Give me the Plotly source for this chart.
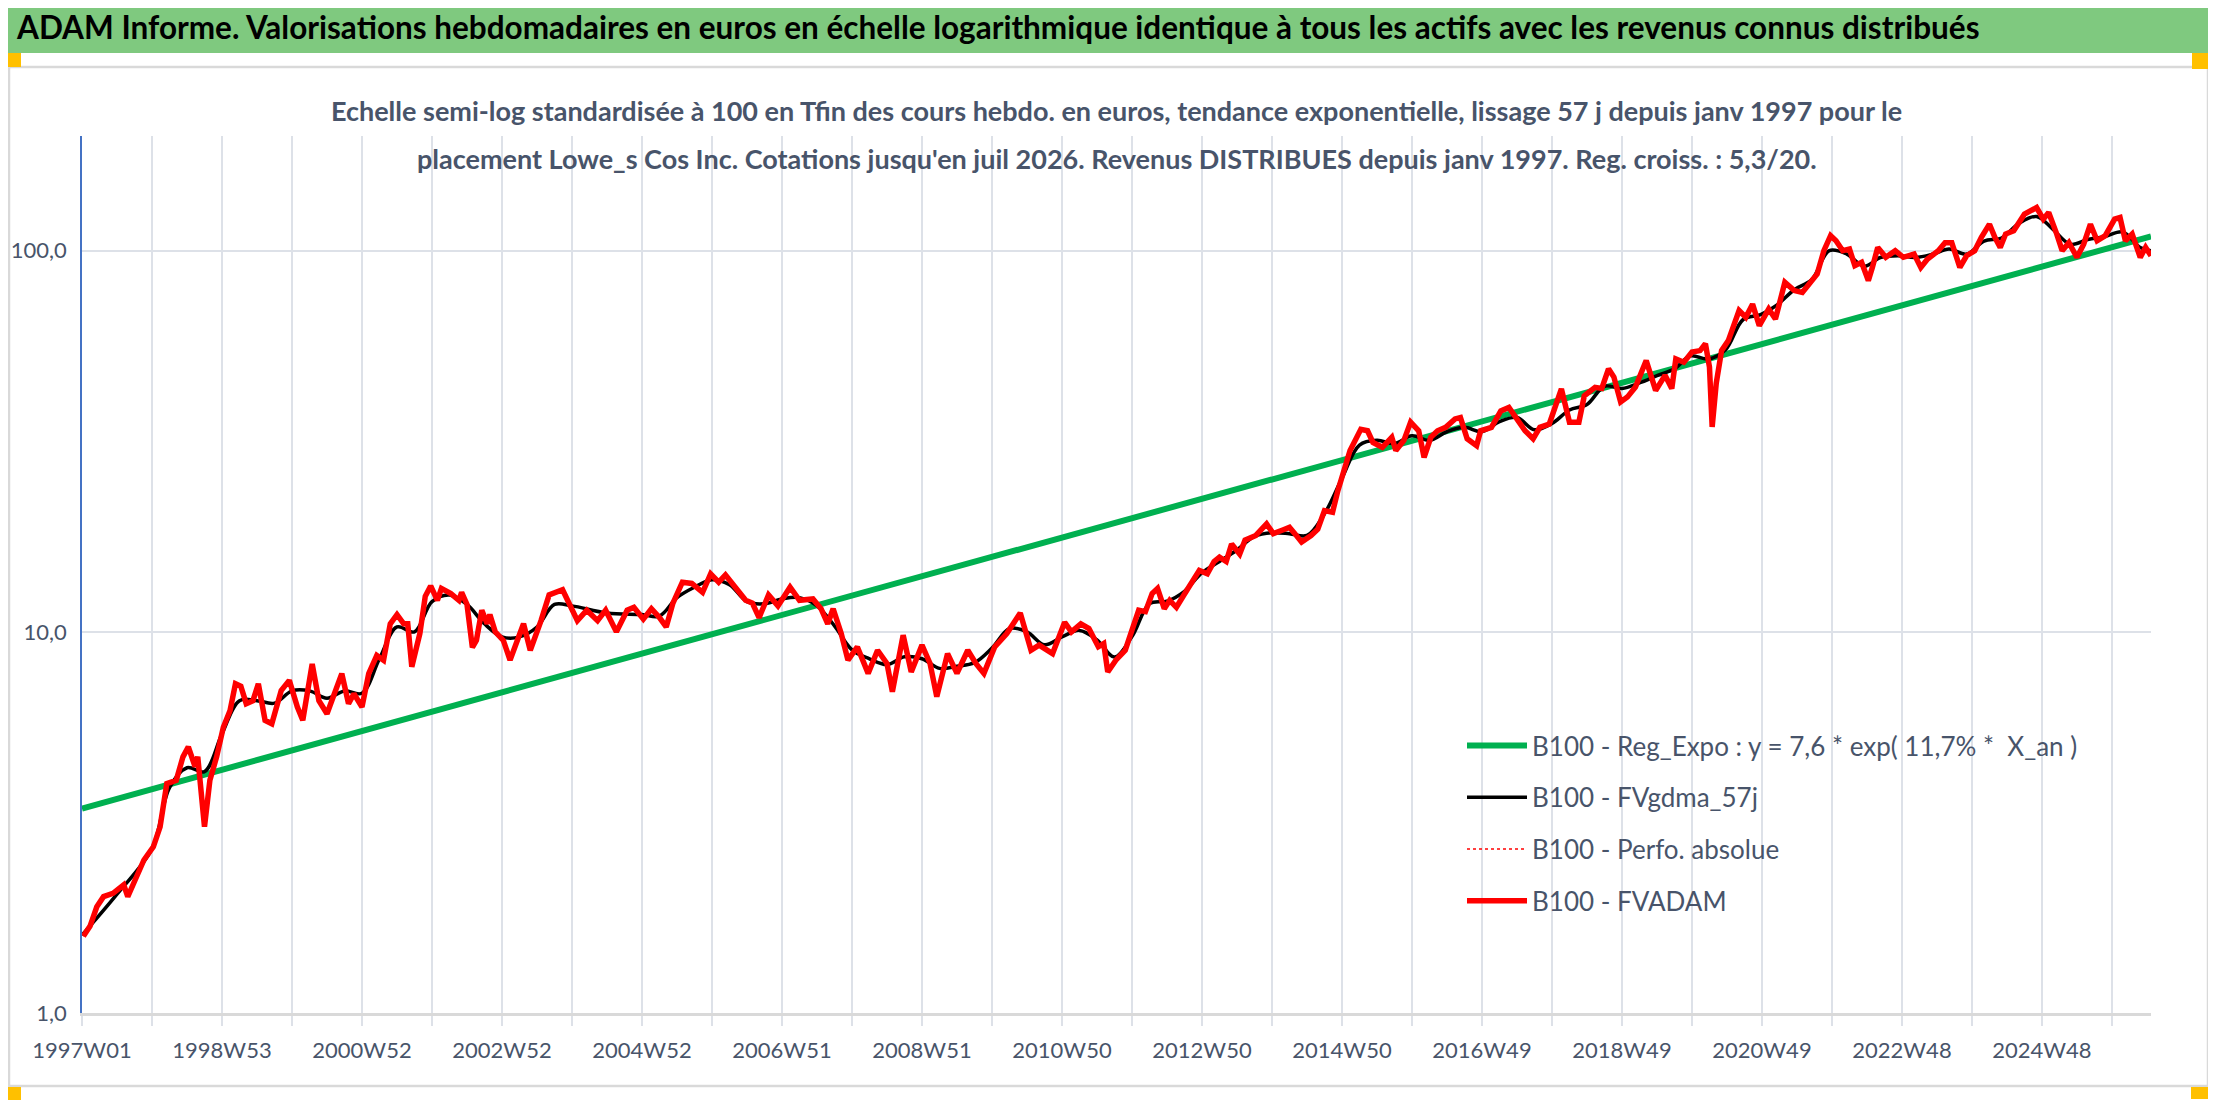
import plotly.graph_objects as go

# Weekly index (0 = 1997W01) and values, log scale base 100 at the end
fvadam_weeks = [
    1, 6, 11, 16, 23, 31, 34, 41, 46, 53, 58, 63, 70, 75, 79, 84, 86, 91, 95, 100,
    105, 110, 114, 118, 122, 127, 131, 136, 141, 148, 154, 160, 164, 171, 176, 182, 187, 193, 198, 202,
    208, 213, 219, 224, 229, 234, 239, 242, 245, 251, 255, 259, 264, 267, 274, 280, 282, 286, 290, 293,
    297, 301, 303, 307, 313, 318, 328, 333, 341, 347, 357, 368, 375, 383, 389, 397, 405, 410, 417, 423,
    429, 434, 439, 446, 453, 461, 467, 473, 478, 485, 493, 498, 503, 510, 517, 526, 533, 543, 549, 554,
    558, 564, 569, 576, 584, 591, 598, 602, 610, 616, 624, 630, 635, 643, 650, 658, 664, 670, 678, 687,
    697, 705, 711, 721, 730, 735, 742, 748, 755, 759, 762, 768, 775, 780, 785, 790, 795, 799, 804, 808,
    813, 818, 825, 830, 836, 841, 845, 850, 854, 860, 864, 872, 880, 885, 892, 897, 901, 906, 913, 918,
    923, 929, 933, 937, 942, 950, 955, 959, 966, 973, 976, 982, 987, 993, 997, 1002, 1007, 1013, 1020, 1024,
    1029, 1036, 1039, 1047, 1054, 1060, 1067, 1072, 1078, 1083, 1090, 1093, 1099, 1105, 1112, 1116, 1124, 1129, 1134, 1138,
    1143, 1148, 1154, 1162, 1169, 1176, 1181, 1184, 1190, 1196, 1202, 1206, 1209, 1211, 1214, 1218, 1223, 1231, 1236, 1241,
    1246, 1253, 1258, 1265, 1272, 1278, 1283, 1289, 1294, 1299, 1303, 1308, 1313, 1317, 1322, 1327, 1330, 1334, 1340, 1347,
    1353, 1361, 1366, 1371, 1379, 1384, 1389, 1395, 1400, 1406, 1411, 1417, 1421, 1425, 1429, 1435, 1443, 1447, 1452, 1457,
    1461, 1467, 1471, 1476, 1482, 1487, 1492, 1497, 1503, 1510, 1514, 1518, 1523, 1529, 1533, 1537,
]
fvadam_values = [
    1.59, 1.69, 1.90, 2.02, 2.06, 2.17, 2.02, 2.28, 2.52, 2.73, 3.08, 4.0, 4.08, 4.70, 4.99, 4.43, 4.70, 3.08, 4.08, 4.70,
    5.62, 6.22, 7.31, 7.2, 6.48, 6.6, 7.31, 5.86, 5.74, 7.02, 7.46, 6.35, 5.86, 8.24, 6.6, 6.10, 6.88, 7.77, 6.48, 6.88,
    6.35, 7.77, 8.67, 8.42, 10.5, 11.1, 10.5, 10.5, 8.1, 9.9, 12.4, 13.2, 12.1, 13.0, 12.6, 12.1, 12.7, 11.8, 9.1, 9.5,
    11.4, 10.5, 11.1, 10.0, 9.5, 8.43, 10.5, 8.95, 10.7, 12.5, 12.9, 10.7, 11.4, 10.7, 11.4, 10.0, 11.4, 11.6, 10.8, 11.5,
    10.9, 10.3, 11.9, 13.5, 13.4, 12.7, 14.2, 13.5, 14.1, 13.1, 12.1, 11.9, 10.9, 12.5, 11.7, 13.1, 12.1, 12.2, 11.5, 10.5,
    11.5, 9.9, 8.43, 9.13, 7.78, 8.95, 8.26, 6.97, 9.8, 7.85, 9.23, 8.26, 6.76, 8.77, 7.78, 8.95, 8.26, 7.78, 9.13, 9.9,
    11.2, 8.95, 9.23, 8.77, 10.6, 10.0, 10.5, 10.2, 9.14, 9.32, 7.85, 8.43, 8.95, 10.1, 11.4, 11.3, 12.6, 13.0, 11.5, 12.1,
    11.6, 12.4, 13.5, 14.5, 14.2, 15.3, 15.7, 15.3, 17.0, 16.0, 17.4, 17.9, 19.2, 18.1, 18.5, 18.8, 18.1, 17.2, 17.9, 18.6,
    20.8, 20.6, 23.5, 26.5, 29.9, 34.0, 33.7, 31.4, 30.5, 32.4, 29.9, 31.8, 35.5, 33.7, 28.7, 32.4, 33.7, 34.4, 36.2, 36.5,
    32.1, 30.8, 33.7, 34.4, 38.0, 38.8, 35.5, 33.7, 32.1, 34.4, 35.1, 38.0, 43.4, 35.5, 35.5, 41.6, 43.8, 43.5, 49.0, 46.6,
    40.1, 41.3, 43.9, 51.5, 43.0, 47.1, 43.5, 52.0, 51.0, 54.2, 54.7, 57.0, 49.5, 34.5, 44.8, 54.7, 58.1, 69.7, 66.9, 72.4,
    63.6, 70.3, 66.2, 82.6, 78.6, 77.7, 81.8, 86.9, 100.0, 109.5, 106.2, 100.0, 101.0, 91.4, 93.2, 83.5, 90.4, 102.0, 96.1, 100.0,
    96.1, 98.0, 90.4, 95.1, 100.0, 105.0, 105.0, 90.4, 97.0, 100.0, 108.4, 117.4, 108.4, 102.0, 110.6, 112.8, 124.7, 127.3, 129.8, 121.0,
    126.0, 110.6, 100.0, 105.0, 96.1, 104.0, 117.4, 106.2, 109.5, 121.0, 122.2, 106.2, 110.6, 96.1, 102.0, 97.0,
]

# smoothed line (FVgdma_57j), read roughly every quarter
gdma_weeks = [
    0, 26, 52, 65, 78, 91, 104, 117, 130, 143, 156, 169, 182, 195, 208, 221, 234, 247, 260, 273,
    286, 299, 312, 325, 338, 351, 364, 390, 416, 429, 442, 455, 468, 481, 494, 507, 520, 533, 546, 559,
    572, 585, 598, 611, 624, 637, 650, 663, 676, 689, 702, 715, 728, 741, 754, 767, 780, 793, 806, 819,
    832, 845, 858, 871, 884, 897, 910, 923, 936, 949, 962, 975, 988, 1001, 1014, 1027, 1040, 1053, 1066, 1079,
    1092, 1105, 1118, 1131, 1144, 1157, 1170, 1183, 1195, 1208, 1221, 1234, 1247, 1259, 1272, 1285, 1298, 1311, 1324, 1336,
    1349, 1362, 1375, 1387, 1400, 1413, 1426, 1439, 1452, 1464, 1477, 1490, 1503, 1516, 1529, 1537,
]
gdma_values = [
    1.6, 2.05, 2.7, 3.9, 4.4, 4.3, 5.4, 6.6, 6.6, 6.5, 7.0, 7.0, 6.7, 7.0, 6.9, 8.5, 10.3, 10.0, 12.0, 12.5,
    11.8, 10.5, 9.7, 9.7, 10.3, 11.8, 11.7, 11.2, 11.1, 11.0, 12.3, 13.1, 13.7, 13.3, 12.0, 11.85, 12.2, 12.3, 11.7, 10.37,
    8.97, 8.5, 8.21, 8.6, 8.5, 8.02, 8.12, 8.3, 9.07, 10.2, 10.0, 9.25, 9.7, 10.09, 9.53, 8.59, 9.72, 11.85, 12.04, 12.78,
    14.3, 15.3, 16.4, 17.8, 18.2, 18.1, 17.9, 20.4, 25.3, 30.9, 31.8, 31.2, 32.7, 31.8, 33.5, 34.4, 33.5, 35.6, 36.5, 33.9,
    35.2, 38.2, 39.5, 44.1, 43.5, 45.0, 47.0, 49.0, 53.0, 52.0, 55.0, 66.0, 68.0, 72.0, 79.0, 84.0, 100.0, 98.0, 91.0, 96.0,
    97.0, 96.0, 98.0, 101.0, 98.0, 106.0, 108.0, 118.0, 123.0, 114.0, 104.0, 107.0, 109.0, 112.0, 102.0, 100.0,
]

# exponential regression line, straight on the log axis: start and end
reg_weeks = [0, 1537]
reg_values = [3.44, 109.0]

tick_weeks = [0, 104, 208, 312, 416, 520, 624, 728, 832, 936, 1040, 1144, 1248, 1352, 1456]
tick_labels = ["1997W01", "1998W53", "2000W52", "2002W52", "2004W52", "2006W51", "2008W51", "2010W50",
               "2012W50", "2014W50", "2016W49", "2018W49", "2020W49", "2022W48", "2024W48"]

# the page body adds an 8 px offset, so the figure is a bit smaller than the window
OFF = 8
W, H = 2216 - OFF, 1102 - OFF
ML, MR, MT, MB = 82 - OFF, 65, 136 - OFF, 89
PW, PH = W - ML - MR, H - MT - MB


def px_x(p):
    # screenshot pixel column -> paper x
    return (p - OFF - ML) / PW


def px_y(p):
    # screenshot pixel row (from top) -> paper y
    return (H - MB - (p - OFF)) / PH


FONT = "Lato, Calibri, sans-serif"
TXT = "#48546a"

fig = go.Figure()
fig.add_trace(go.Scatter(x=reg_weeks, y=reg_values, mode="lines", legendgroup="a",
                         name="B100 - Reg_Expo : y = 7,6 * exp( 11,7% *  X_an )",
                         line=dict(color="#00B050", width=6)))
fig.add_trace(go.Scatter(x=gdma_weeks, y=gdma_values, mode="lines", legendgroup="b",
                         name="B100 - FVgdma_57j", line=dict(color="black", width=3.5, shape="spline")))
fig.add_trace(go.Scatter(x=fvadam_weeks, y=fvadam_values, mode="lines", legendgroup="c",
                         name="B100 - Perfo. absolue", line=dict(color="#FF0000", width=1.5, dash="dot")))
fig.add_trace(go.Scatter(x=fvadam_weeks, y=fvadam_values, mode="lines", legendgroup="d",
                         name="B100 - FVADAM", line=dict(color="#FF0000", width=5.5)))

shapes = [
    # green banner
    dict(type="rect", xref="paper", yref="paper", x0=px_x(0), x1=px_x(2216), y0=px_y(53), y1=px_y(0),
         fillcolor="#7FC97F", line=dict(width=0), layer="below"),
    # chart area border
    dict(type="rect", xref="paper", yref="paper", x0=px_x(9), x1=px_x(2208), y0=px_y(1086), y1=px_y(67),
         fillcolor="rgba(0,0,0,0)", line=dict(color="#D9D9D9", width=2.5), layer="below"),
]
# orange selection handles
for x0, x1, y0, y1 in [(8, 21, 53, 67), (2192, 2213, 53, 69), (8, 21, 1087, 1100),
                       (2191, 2213, 1087, 1099), (2209, 2213, 1038, 1099)]:
    shapes.append(dict(type="rect", xref="paper", yref="paper", x0=px_x(x0), x1=px_x(x1),
                       y0=px_y(y1), y1=px_y(y0), fillcolor="#FFC000", line=dict(width=0)))

annotations = [
    dict(xref="paper", yref="paper", x=px_x(14), y=px_y(27), xanchor="left", yanchor="middle",
         showarrow=False, text="<b>ADAM Informe. Valorisations hebdomadaires en euros en échelle logarithmique "
                               "identique à tous les actifs avec les revenus connus distribués</b>",
         font=dict(family=FONT, size=31.5, color="black")),
    dict(xref="paper", yref="paper", x=0.5, y=px_y(110), xanchor="center", yanchor="middle",
         showarrow=False,
         text="<b>Echelle semi-log standardisée à 100 en Tfin des cours hebdo. en euros, tendance exponentielle, "
              "lissage 57 j depuis janv 1997 pour le</b>",
         font=dict(family=FONT, size=27, color=TXT)),
    dict(xref="paper", yref="paper", x=0.5, y=px_y(158), xanchor="center", yanchor="middle",
         showarrow=False,
         text="<b>placement Lowe_s Cos Inc. Cotations jusqu'en juil 2026. "
              "Revenus DISTRIBUES depuis janv 1997. Reg. croiss. : 5,3/20.</b>",
         font=dict(family=FONT, size=27, color=TXT)),
]

fig.update_layout(
    width=W, height=H,
    margin=dict(l=ML, r=MR, t=MT, b=MB, autoexpand=False),
    paper_bgcolor="white", plot_bgcolor="white",
    font=dict(family=FONT, color=TXT),
    shapes=shapes, annotations=annotations,
    showlegend=True,
    legend=dict(x=px_x(1462), y=px_y(722), xanchor="left", yanchor="top",
                bgcolor="rgba(255,255,255,0)", font=dict(family=FONT, size=26, color=TXT),
                tracegroupgap=15, itemwidth=60),
)
fig.update_xaxes(
    range=[0, 1537], tickmode="array", tickvals=tick_weeks, ticktext=tick_labels,
    showgrid=True, gridcolor="#DDE1E8", gridwidth=1.5,
    ticks="outside", ticklen=10, tickcolor="#DDE1E8", tickwidth=1.5,
    minor=dict(dtick=52, tick0=0, showgrid=True, gridcolor="#DDE1E8", gridwidth=1.5,
               ticks="outside", ticklen=10, tickcolor="#DDE1E8"),
    showline=True, linecolor="#D9D9D9", linewidth=3,
    tickfont=dict(family=FONT, size=22, color=TXT), ticklabelstandoff=6,
    zeroline=False, automargin=False,
)
fig.update_yaxes(
    type="log", range=[0, 2.301], tickmode="array", tickvals=[1, 10, 100],
    ticktext=["1,0", "10,0", "100,0"],
    showgrid=True, gridcolor="#DDE1E8", gridwidth=1.5,
    showline=True, linecolor="#4472C4", linewidth=1.5,
    tickfont=dict(family=FONT, size=22, color=TXT), ticklabelstandoff=9,
    zeroline=False, automargin=False,
)

fig.write_html("out.html")
